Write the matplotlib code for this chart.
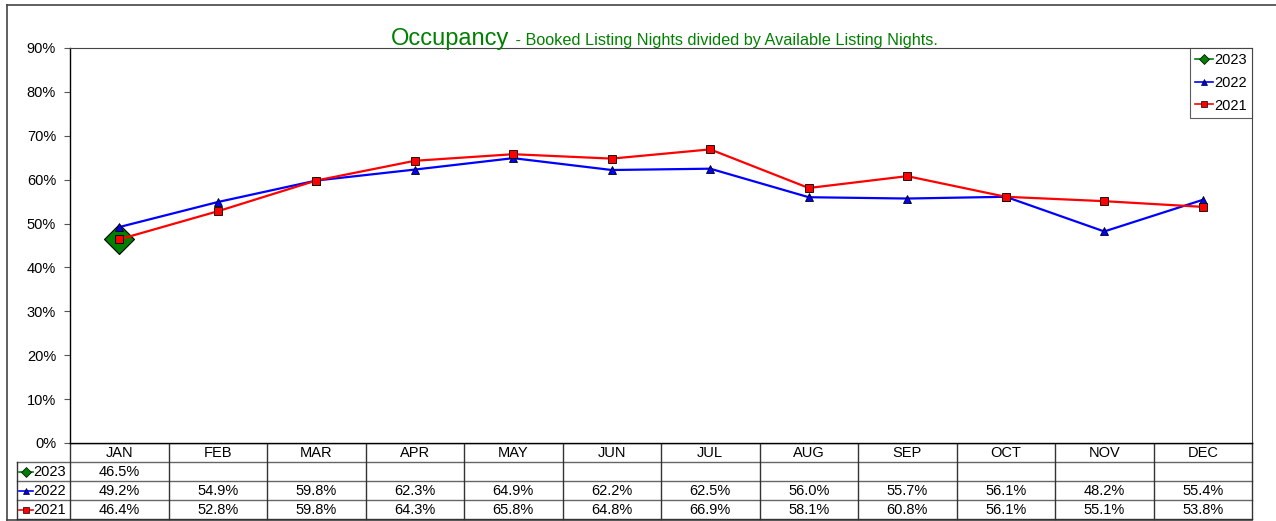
import matplotlib
matplotlib.use("Agg")
import matplotlib.pyplot as plt
from matplotlib.lines import Line2D
import numpy as np

plt.rcParams['font.family'] = ['Liberation Sans', 'DejaVu Sans']

months = ["JAN", "FEB", "MAR", "APR", "MAY", "JUN", "JUL", "AUG", "SEP", "OCT", "NOV", "DEC"]
y2023 = [46.5, None, None, None, None, None, None, None, None, None, None, None]
y2022 = [49.2, 54.9, 59.8, 62.3, 64.9, 62.2, 62.5, 56.0, 55.7, 56.1, 48.2, 55.4]
y2021 = [46.4, 52.8, 59.8, 64.3, 65.8, 64.8, 66.9, 58.1, 60.8, 56.1, 55.1, 53.8]
series_names = ["2023", "2022", "2021"]
yticks = [0, 10, 20, 30, 40, 50, 60, 70, 80, 90]

W, H = 1276, 521
fig = plt.figure(figsize=(W / 100, H / 100), dpi=100)

# plot area (pixels)
L, R, T, B = 70, 1252, 48, 443
ax = fig.add_axes([L / W, 1 - B / H, (R - L) / W, (B - T) / H])

x = np.arange(len(months))
def arr(v):
    return np.array([np.nan if a is None else a for a in v], dtype=float)

ax.plot(x, arr(y2023), color='green', marker='D', markersize=15, markerfacecolor='#008000',
        markeredgecolor='black', markeredgewidth=0.8, lw=1.5, zorder=3)
ax.plot(x, arr(y2022), color='#0000ff', marker='^', markersize=6, markerfacecolor='#0000ff',
        markeredgecolor='black', markeredgewidth=0.6, lw=1.6, zorder=4)
ax.plot(x, arr(y2021), color='#ff0000', marker='s', markersize=6, markerfacecolor='#ff0000',
        markeredgecolor='black', markeredgewidth=0.6, lw=1.6, zorder=5)

ax.set_xlim(-0.5, len(months) - 0.5)
ax.set_ylim(0, 90)
ax.set_yticks(yticks)
ax.set_yticklabels([f"{t}%" for t in yticks], fontsize=10.5)
ax.set_xticks([])
ax.tick_params(axis='y', direction='out', length=4, width=0.8, pad=6, color='#555555')
for s in ['top', 'right']:
    ax.spines[s].set_color('#444444')
    ax.spines[s].set_linewidth(0.8)
ax.spines['left'].set_color('black')
ax.spines['left'].set_linewidth(1.0)
ax.spines['bottom'].set_color('black')
ax.spines['bottom'].set_linewidth(1.0)

# legend
handles = [
    Line2D([], [], color='green', marker='D', markersize=5, markerfacecolor='#008000',
           markeredgecolor='black', markeredgewidth=0.5, lw=1.2),
    Line2D([], [], color='#0000ff', marker='^', markersize=5, markerfacecolor='#0000ff',
           markeredgecolor='black', markeredgewidth=0.5, lw=1.2),
    Line2D([], [], color='#ff0000', marker='s', markersize=5, markerfacecolor='#ff0000',
           markeredgecolor='black', markeredgewidth=0.5, lw=1.2),
]
leg = ax.legend(handles, series_names, loc='upper right', bbox_to_anchor=(1.0, 1.0),
                fontsize=10.5, frameon=True, fancybox=False, handlelength=1.2,
                handletextpad=0.1, borderpad=0.35, labelspacing=0.6, borderaxespad=0.0)
leg.get_frame().set_edgecolor('#333333')
leg.get_frame().set_linewidth(0.8)

# overlay for table and borders (pixel coords)
ov = fig.add_axes([0, 0, 1, 1], zorder=-1)
ov.set_xlim(0, W)
ov.set_ylim(H, 0)
ov.axis('off')

# outer border
ov.plot([7, 7], [5, 520], color='#444444', lw=1.2)
ov.plot([7, W], [5, 5], color='#444444', lw=1.2)
ov.plot([7, R], [520, 520], color='#444444', lw=1.2)

# title
green = '#008000'
fig.text(509 / W, 1 - 45 / H, "Occupancy", ha='right', va='baseline', fontsize=17, color=green)
fig.text(511 / W, 1 - 45 / H, " - Booked Listing Nights divided by Available Listing Nights.",
         ha='left', va='baseline', fontsize=11.7, color=green)

# table
n = len(months)
colw = (R - L) / n
row_y = [443, 462, 481, 500, 519]
lc = '#333333'
for i, yy in enumerate(row_y):
    x0 = L if i == 0 else 17
    ov.plot([x0, R], [yy, yy], color=lc if i in (0, 4) else '#666666', lw=1.0)
for j in range(n + 1):
    xx = L + j * colw
    ov.plot([xx, xx], [443, 519], color=lc, lw=1.0)
ov.plot([17, 17], [462, 519], color=lc, lw=1.0)

for j, m in enumerate(months):
    ov.text(L + (j + 0.5) * colw, 453, m, ha='center', va='center', fontsize=10.5)

rows = [y2023, y2022, y2021]
styles = [('green', 'D', '#008000'), ('#0000ff', '^', '#0000ff'), ('#ff0000', 's', '#ff0000')]
for r, (vals, name, st) in enumerate(zip(rows, series_names, styles)):
    yc = (row_y[r + 1] + row_y[r + 2]) / 2
    col, mk, fc = st
    ov.plot([19, 33], [yc, yc], color=col, lw=1.2)
    ov.plot([26], [yc], marker=mk, markersize=5, markerfacecolor=fc,
            markeredgecolor='black', markeredgewidth=0.5, color=col)
    ov.text(33, yc + 0.5, name, ha='left', va='center', fontsize=10.5)
    for j, v in enumerate(vals):
        if v is not None:
            ov.text(L + (j + 0.5) * colw, yc + 0.5, f"{v:.1f}%", ha='center', va='center',
                    fontsize=10.5)

fig.savefig("out.png", dpi=100)
